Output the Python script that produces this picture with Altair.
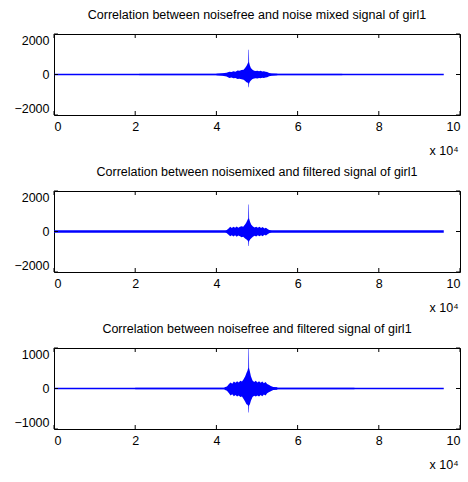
import altair as alt
import pandas as pd

FONT = "Liberation Sans"
BLUE = "#0000ff"

TITLES = [
    "Correlation between noisefree and noise mixed signal of girl1",
    "Correlation between noisemixed and filtered signal of girl1",
    "Correlation between noisefree and filtered signal of girl1",
]
SIG_LEN = 96000
X_DOMAIN = [0, 100000]
X_TICKS = [0, 20000, 40000, 60000, 80000, 100000]
Y_DOMAINS = [[-2000, 2000], [-2000, 2000], [-1000, 1000]]
Y_TICKS = [[-2000, 0, 2000], [-2000, 0, 2000], [-1000, 0, 1000]]

# faint low-level noise band: start, end, amplitude
FAINT = [[21000, 71000, 45], None, [20000, 74000, 30]]
BASE_W = [1.5, 2.6, 1.5]

# burst envelopes (sample index, upper, lower)
p1_x = [40000, 41500, 42500, 43200, 43700, 44200, 44700, 45200, 45700, 46200,
        46700, 47100, 47400, 47650, 47850, 47900, 48000, 48050, 48250, 48500,
        48900, 49300, 49700, 50100, 50500, 50900, 51300, 51700, 52100, 52500,
        53000, 53600, 55000]
p1_hi = [40, 60, 90, 140, 120, 160, 140, 200, 180, 220,
         240, 330, 420, 520, 620, 1220, 1220, 600, 440, 320,
         230, 190, 170, 190, 160, 180, 150, 160, 130, 120,
         80, 55, 40]
p1_lo = [-40, -65, -100, -170, -150, -190, -170, -220, -210, -240,
         -260, -320, -380, -400, -450, -630, -630, -450, -360, -300,
         -220, -200, -180, -200, -170, -190, -160, -170, -150, -130,
         -90, -60, -40]

p2_x = [42000, 42500, 43000, 43400, 43800, 44200, 44600, 45000, 45400, 45800,
        46200, 46600, 47000, 47300, 47600, 47850, 47900, 48000, 48050, 48300,
        48600, 49000, 49400, 49800, 50200, 50600, 51000, 51400, 51800, 52200,
        52600, 53000, 53500, 54000]
p2_hi = [0, 60, 150, 230, 170, 240, 180, 250, 190, 230,
         260, 240, 330, 420, 540, 660, 1330, 1330, 640, 470,
         330, 250, 200, 240, 180, 230, 170, 220, 150, 190,
         120, 80, 40, 0]
p2_lo = [0, -70, -160, -240, -180, -250, -190, -260, -200, -240,
         -280, -260, -330, -380, -420, -500, -720, -720, -480, -400,
         -330, -260, -210, -250, -190, -240, -180, -230, -160, -200,
         -130, -90, -40, 0]

p3_x = [42000, 42600, 43100, 43500, 43900, 44300, 44700, 45100, 45500, 45900,
        46300, 46700, 47100, 47400, 47650, 47850, 47900, 48000, 48050, 48250,
        48500, 48900, 49300, 49700, 50100, 50500, 50900, 51300, 51700, 52100,
        52500, 52900, 53400, 54000, 55000]
p3_hi = [30, 50, 110, 150, 120, 170, 140, 180, 150, 190,
         170, 230, 300, 380, 440, 520, 975, 975, 500, 420,
         300, 200, 160, 190, 150, 180, 140, 170, 130, 160,
         110, 90, 60, 40, 30]
p3_lo = [-30, -55, -120, -170, -140, -190, -160, -200, -170, -210,
         -200, -260, -330, -390, -400, -430, -590, -590, -420, -390,
         -300, -210, -180, -200, -170, -195, -160, -190, -150, -170,
         -120, -95, -65, -40, -30]

BURSTS = [(p1_x, p1_hi, p1_lo), (p2_x, p2_hi, p2_lo), (p3_x, p3_hi, p3_lo)]

W, H = 406, 81
TICK_LEN = 4


def panel(i):
    xs = alt.Scale(domain=X_DOMAIN, nice=False, zero=False)
    ys = alt.Scale(domain=Y_DOMAINS[i], nice=False, zero=False)
    x_axis = alt.Axis(values=X_TICKS, labelExpr="datum.value / 10000", grid=False,
                      ticks=False, domain=False, labelPadding=5, labelFontSize=12.5,
                      labelFont=FONT, labelColor="black", labelOverlap=False,
                      title="x 10\u2074",
                      titleFont=FONT, titleFontSize=12.5, titleFontWeight="normal",
                      titleColor="black", titleAnchor="end", titleAlign="right",
                      titleX=W - 2, titleY=39, titleBaseline="alphabetic")
    y_axis = alt.Axis(values=Y_TICKS[i], format="d", grid=False, ticks=False, domain=False,
                      labelPadding=5, labelFontSize=12.5, labelFont=FONT,
                      labelColor="black", title=None, minExtent=48, maxExtent=48,
                      labelFlush=True, labelOverlap=False)

    base = alt.Chart(pd.DataFrame({"x0": [0], "x1": [SIG_LEN], "y": [0]})).mark_rule(
        color=BLUE, strokeWidth=BASE_W[i]).encode(
        x=alt.X("x0:Q", scale=xs, axis=x_axis), x2="x1:Q",
        y=alt.Y("y:Q", scale=ys, axis=y_axis))

    bx, bhi, blo = BURSTS[i]
    burst = alt.Chart(pd.DataFrame({"x": bx, "hi": bhi, "lo": blo})).mark_area(
        color=BLUE, opacity=1, strokeWidth=0).encode(
        x=alt.X("x:Q", scale=xs), y=alt.Y("hi:Q", scale=ys), y2="lo:Q")

    layers = []
    if FAINT[i] is not None:
        s, e, a = FAINT[i]
        faint = alt.Chart(pd.DataFrame({"x0": [s], "x1": [e], "hi": [a], "lo": [-a]})).mark_rect(
            color=BLUE, opacity=0.3).encode(
            x=alt.X("x0:Q", scale=xs), x2="x1:Q",
            y=alt.Y("hi:Q", scale=ys), y2="lo:Q")
        layers.append(faint)
    layers += [base, burst]

    xt = pd.DataFrame({"t": X_TICKS})
    yt = pd.DataFrame({"t": Y_TICKS[i]})
    tk = dict(color="black", strokeWidth=1)
    layers += [
        alt.Chart(xt).mark_rule(**tk).encode(x=alt.X("t:Q", scale=xs), y=alt.value(0), y2=alt.value(TICK_LEN)),
        alt.Chart(xt).mark_rule(**tk).encode(x=alt.X("t:Q", scale=xs), y=alt.value(H - TICK_LEN), y2=alt.value(H)),
        alt.Chart(yt).mark_rule(**tk).encode(y=alt.Y("t:Q", scale=ys), x=alt.value(0), x2=alt.value(TICK_LEN)),
        alt.Chart(yt).mark_rule(**tk).encode(y=alt.Y("t:Q", scale=ys), x=alt.value(W - TICK_LEN), x2=alt.value(W)),
    ]

    return alt.layer(*layers).properties(
        width=W, height=H,
        title=alt.TitleParams(TITLES[i], font=FONT, fontSize=12.5, fontWeight="normal",
                              color="black", anchor="middle", offset=12),
    )


chart = alt.vconcat(panel(0), panel(1), panel(2), spacing=8).resolve_scale(
    x="independent", y="independent"
).properties(
    padding={"left": 5, "top": 8, "right": 5, "bottom": 0},
    background="white",
).configure_view(stroke="black", strokeWidth=1)

chart.save("out.html", embed_options={"renderer": "svg", "actions": False})
